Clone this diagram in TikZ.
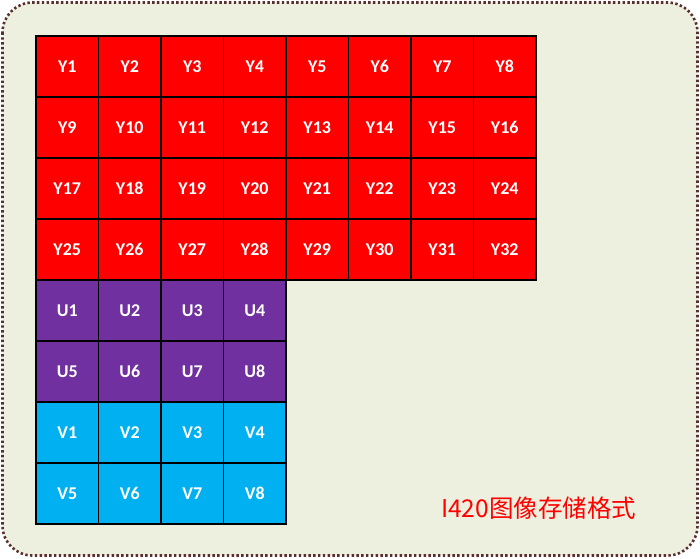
\documentclass[tikz,border=0pt]{standalone}
\usepackage{fontspec}
\setmainfont{Carlito}
\newfontfamily\cjkfont{Noto Sans CJK SC}
\definecolor{bgfill}{HTML}{EDF0DF}
\definecolor{bord}{HTML}{5A2E2E}
\definecolor{cred}{HTML}{FF0000}
\definecolor{cpurple}{HTML}{7030A0}
\definecolor{cblue}{HTML}{00B0F0}
\tikzset{
  cell/.style={draw=black, line width=1.6pt, minimum width=62.5pt, minimum height=61pt, inner sep=0pt, text=white, font=\bfseries\fontsize{18}{20}\selectfont},
  ycell/.style={cell, fill=cred},
  ucell/.style={cell, fill=cpurple},
  vcell/.style={cell, fill=cblue},
}
\begin{document}
\begin{tikzpicture}[x=1pt,y=-1pt]
\useasboundingbox (0,0) rectangle (700,558);
\draw[bord, line width=2.6pt, dash pattern=on 2.4pt off 2.4pt, fill=bgfill, rounded corners=30pt] (2.5,2.5) rectangle (697.5,555.5);
\foreach \r in {0,...,3}{
  \foreach \c in {0,...,7}{
    \pgfmathtruncatemacro{\n}{\r*8+\c+1}
    \node[ycell] (y\n) at ({36+62.5*(\c+0.5)},{36+61*(\r+0.5)}) {Y\n};
  }
}
\foreach \r in {0,1}{
  \foreach \c in {0,...,3}{
    \pgfmathtruncatemacro{\n}{\r*4+\c+1}
    \node[ucell] (u\n) at ({36+62.5*(\c+0.5)},{36+61*(\r+4.5)}) {U\n};
    \node[vcell] (v\n) at ({36+62.5*(\c+0.5)},{36+61*(\r+6.5)}) {V\n};
  }
}
\node[text=cred, font=\cjkfont\fontsize{24.5}{28}\selectfont, anchor=west, inner sep=0pt] (title) at (441,508) {I420图像存储格式};
\end{tikzpicture}
\end{document}
